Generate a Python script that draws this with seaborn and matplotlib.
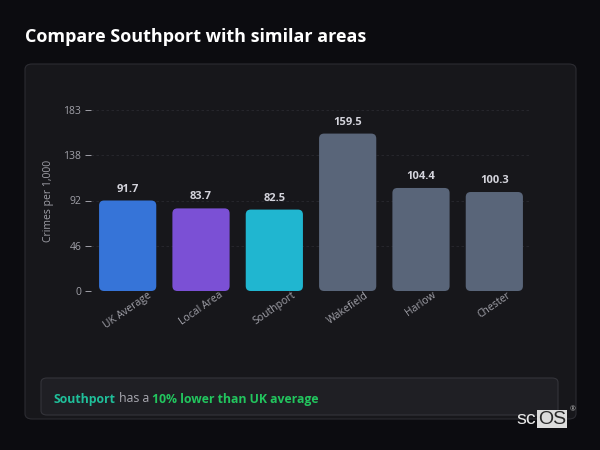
import numpy as np
import pandas as pd
import matplotlib
matplotlib.use("Agg")
import matplotlib.pyplot as plt
from matplotlib.patches import FancyBboxPatch
import seaborn as sns

areas = ["UK Average", "Local Area", "Southport", "Wakefield", "Harlow", "Chester"]
rates = [91.7, 83.7, 82.5, 159.5, 104.4, 100.3]
bar_colors = ["#3674d8", "#7b50d5", "#20b6d0", "#596579", "#596579", "#596579"]
y_max = 183.4
title = "Compare Southport with similar areas"
y_label = "Crimes per 1,000"

BG = "#0c0c10"
CARD = "#17171b"
MUTED = "#a0a0a8"

sns.set_theme(style="dark")
plt.rcParams["font.family"] = ["Open Sans", "DejaVu Sans"]

df = pd.DataFrame({"area": areas, "rate": rates})

fig = plt.figure(figsize=(6, 4.5), dpi=100, facecolor=BG)

# card behind the chart
card = FancyBboxPatch((25 / 600, 1 - 419 / 450), 551 / 600, 355 / 450,
                      boxstyle="round,pad=0,rounding_size=0.012",
                      transform=fig.transFigure, facecolor=CARD,
                      edgecolor="#2c2c32", linewidth=0.8, zorder=-5)
fig.patches.append(card)

fig.text(25 / 600, 1 - 37 / 450, title, color="white", fontsize=13,
         fontweight="bold", va="center", ha="left")

ax = fig.add_axes([91 / 600, 1 - 291 / 450, 440 / 600, 181 / 450])
ax.set_facecolor("none")
ax.set_zorder(2)
sns.barplot(data=df, x="area", y="rate", hue="area", palette=bar_colors,
            legend=False, width=0.78, ax=ax)

# swap plain bars for rounded ones
xr = 6.0 / 440
yr = y_max / 181
for patch, col in zip(list(ax.patches), bar_colors):
    x0, y0 = patch.get_x(), patch.get_y()
    w, h = patch.get_width(), patch.get_height()
    patch.set_visible(False)
    rb = FancyBboxPatch((x0, y0), w, h,
                        boxstyle=f"round,pad=0,rounding_size={5 * xr}",
                        mutation_aspect=yr / xr, facecolor=col,
                        edgecolor="none", zorder=3)
    ax.add_patch(rb)
    ax.text(x0 + w / 2, h + 6 * yr, f"{h:.1f}", ha="center", va="bottom",
            color="#d4d4dc", fontsize=8, fontweight="bold", zorder=4)

ax.set_xlim(-0.5, 5.5)
ax.set_ylim(0, y_max)
yt = np.linspace(0, y_max, 5)
ax.set_yticks(yt)
ax.set_yticklabels([f"{v:.0f}" for v in yt])
ax.grid(axis="y", color="#2a2a30", linestyle=(0, (3, 3)), linewidth=0.6)
ax.grid(axis="x", visible=False)
for s in ax.spines.values():
    s.set_visible(False)
ax.tick_params(axis="y", colors=MUTED, labelsize=7.5, length=4, width=0.7,
               left=True, pad=3)
ax.tick_params(axis="x", colors=MUTED, labelsize=7.5, length=0, pad=-1)
for lbl in ax.get_xticklabels():
    lbl.set_rotation(35)
    lbl.set_ha("center")
ax.set_xlabel("")
ax.set_ylabel(y_label, color=MUTED, fontsize=7.5, labelpad=7)

# insight box
box = FancyBboxPatch((41 / 600, 1 - 415 / 450), 517 / 600, 37 / 450,
                     boxstyle="round,pad=0,rounding_size=0.01",
                     transform=fig.transFigure, facecolor="#1f1f24",
                     edgecolor="#34343a", linewidth=0.8, zorder=-1)
fig.patches.append(box)
fig.canvas.draw()
r = fig.canvas.get_renderer()
x = 54 / 600
yy = 1 - 399 / 450
parts = [("Southport", "#1fbf9a", "bold"), (" has a ", "#a8a8b0", "normal"),
         ("10% lower than UK average", "#22c55e", "bold")]
for txt, col, wt in parts:
    t = fig.text(x, yy, txt, color=col, fontsize=8.8, fontweight=wt,
                 va="center", ha="left")
    bb = t.get_window_extent(renderer=r)
    x += bb.width / fig.bbox.width

# watermark
fig.text(516 / 600, 1 - 419 / 450, "sc", color="#e8e8e8", fontsize=14,
         family=["Liberation Sans", "DejaVu Sans"], va="center", ha="left")
fig.text(538 / 600, 1 - 419 / 450, "OS", color="#2a2a2a", fontsize=14,
         family=["Liberation Sans", "DejaVu Sans"], va="center", ha="left",
         bbox=dict(boxstyle="square,pad=0.05", facecolor="#dcdcdc",
                   edgecolor="none"))
fig.text(570 / 600, 1 - 410 / 450, "®", color="#bbbbbb", fontsize=5,
         va="center", ha="left")

fig.savefig("out.png", dpi=100, facecolor=BG)
